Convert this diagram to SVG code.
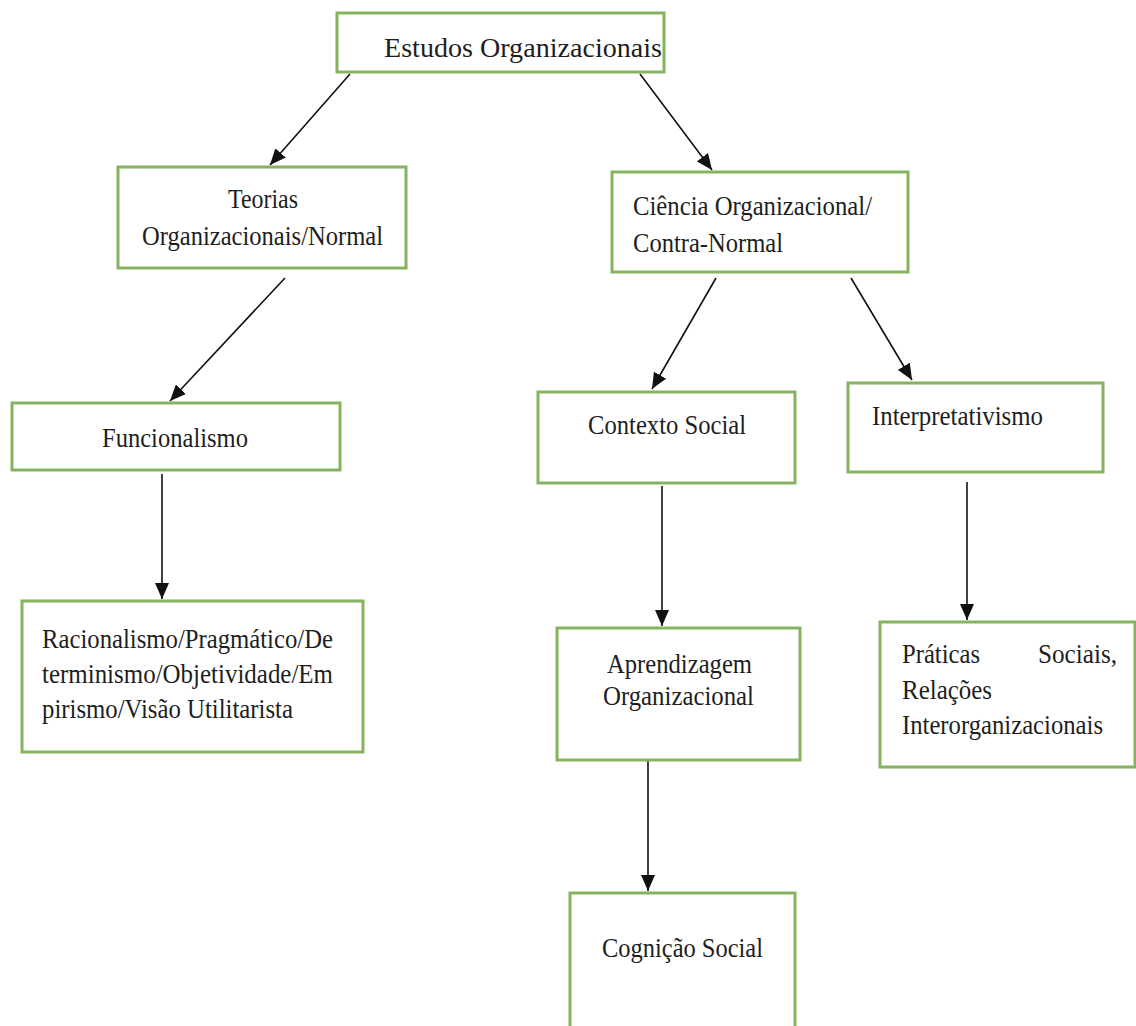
<svg xmlns="http://www.w3.org/2000/svg" width="1136" height="1026" viewBox="0 0 1136 1026">
  <style>
    .box { fill: #ffffff; stroke: #86b35f; stroke-width: 3; }
    .lbl { font-family: "Liberation Serif", "Times New Roman", serif; font-size: 28px; fill: #1e1e1e; }
    .edge { stroke: #111111; stroke-width: 1.6; fill: none; }
  </style>
  <defs>
    <marker id="arrow" markerUnits="userSpaceOnUse" markerWidth="18" markerHeight="14" refX="16" refY="7" orient="auto">
      <path d="M0,0 L16,7 L0,14 Z" fill="#111111"/>
    </marker>
  </defs>
  <rect width="1136" height="1026" fill="#ffffff"/>

  <g id="connectors">
    <line class="edge" x1="350" y1="74" x2="270" y2="165" marker-end="url(#arrow)"/>
    <line class="edge" x1="640" y1="74" x2="712" y2="170" marker-end="url(#arrow)"/>
    <line class="edge" x1="285" y1="278" x2="170" y2="401" marker-end="url(#arrow)"/>
    <line class="edge" x1="716" y1="278" x2="652" y2="389" marker-end="url(#arrow)"/>
    <line class="edge" x1="851" y1="278" x2="912" y2="380" marker-end="url(#arrow)"/>
    <line class="edge" x1="162" y1="474" x2="162" y2="599" marker-end="url(#arrow)"/>
    <line class="edge" x1="662" y1="486" x2="662" y2="626" marker-end="url(#arrow)"/>
    <line class="edge" x1="967" y1="482" x2="967" y2="620" marker-end="url(#arrow)"/>
    <line class="edge" x1="648" y1="755" x2="648" y2="891" marker-end="url(#arrow)"/>
  </g>

  <g id="estudos">
    <rect class="box" x="337" y="13" width="327" height="59"/>
    <text class="lbl" x="384" y="57" font-size="32" textLength="278" lengthAdjust="spacingAndGlyphs">Estudos Organizacionais</text>
  </g>

  <g id="teorias">
    <rect class="box" x="118" y="167" width="288" height="101"/>
    <text class="lbl" x="228" y="208" textLength="70" lengthAdjust="spacingAndGlyphs">Teorias</text>
    <text class="lbl" x="142" y="245" textLength="241" lengthAdjust="spacingAndGlyphs">Organizacionais/Normal</text>
  </g>

  <g id="ciencia">
    <rect class="box" x="612" y="172" width="296" height="100"/>
    <text class="lbl" x="633" y="215" textLength="239" lengthAdjust="spacingAndGlyphs">Ciência Organizacional/</text>
    <text class="lbl" x="633" y="252" textLength="150" lengthAdjust="spacingAndGlyphs">Contra-Normal</text>
  </g>

  <g id="funcionalismo">
    <rect class="box" x="12" y="403" width="328" height="67"/>
    <text class="lbl" x="102" y="447" textLength="146" lengthAdjust="spacingAndGlyphs">Funcionalismo</text>
  </g>

  <g id="racionalismo">
    <rect class="box" x="22" y="601" width="341" height="151"/>
    <text class="lbl" x="42" y="648" textLength="291" lengthAdjust="spacingAndGlyphs">Racionalismo/Pragmático/De</text>
    <text class="lbl" x="42" y="683" textLength="291" lengthAdjust="spacingAndGlyphs">terminismo/Objetividade/Em</text>
    <text class="lbl" x="42" y="718" textLength="251" lengthAdjust="spacingAndGlyphs">pirismo/Visão Utilitarista</text>
  </g>

  <g id="contexto">
    <rect class="box" x="538" y="392" width="257" height="91"/>
    <text class="lbl" x="588" y="434" textLength="158" lengthAdjust="spacingAndGlyphs">Contexto Social</text>
  </g>

  <g id="interpretativismo">
    <rect class="box" x="848" y="383" width="255" height="89"/>
    <text class="lbl" x="872" y="425" textLength="171" lengthAdjust="spacingAndGlyphs">Interpretativismo</text>
  </g>

  <g id="aprendizagem">
    <rect class="box" x="557" y="628" width="243" height="132"/>
    <text class="lbl" x="607" y="673" textLength="145" lengthAdjust="spacingAndGlyphs">Aprendizagem</text>
    <text class="lbl" x="603" y="705" textLength="151" lengthAdjust="spacingAndGlyphs">Organizacional</text>
  </g>

  <g id="praticas">
    <rect class="box" x="880" y="622" width="255" height="145"/>
    <text class="lbl" x="902" y="663" textLength="78" lengthAdjust="spacingAndGlyphs">Práticas</text>
    <text class="lbl" x="1038" y="663" textLength="79" lengthAdjust="spacingAndGlyphs">Sociais,</text>
    <text class="lbl" x="902" y="699" textLength="90" lengthAdjust="spacingAndGlyphs">Relações</text>
    <text class="lbl" x="902" y="734" textLength="201" lengthAdjust="spacingAndGlyphs">Interorganizacionais</text>
  </g>

  <g id="cognicao">
    <rect class="box" x="570" y="893" width="225" height="140"/>
    <text class="lbl" x="602" y="957" textLength="161" lengthAdjust="spacingAndGlyphs">Cognição Social</text>
  </g>
</svg>
